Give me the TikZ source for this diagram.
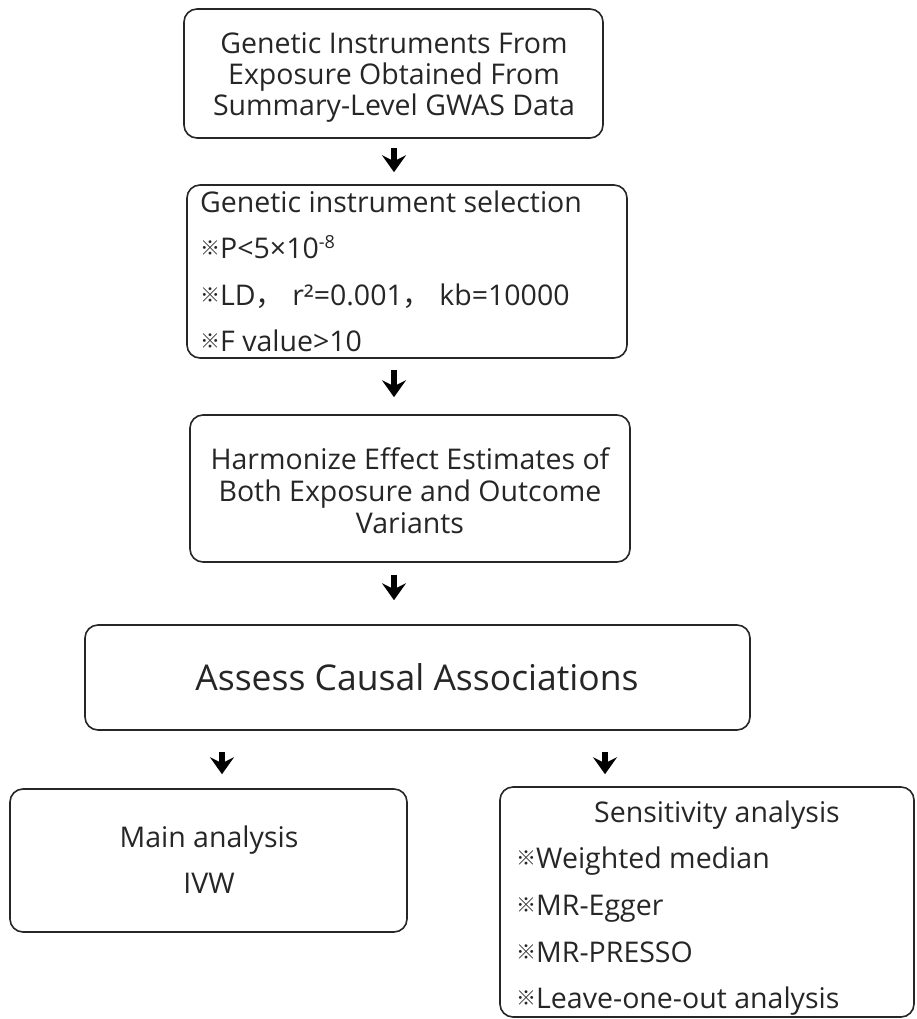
\documentclass[tikz,border=0pt]{standalone}
\usepackage{fontspec}
\setmainfont{Open Sans}
\newfontfamily\cjkfont{Noto Sans CJK SC}
\usetikzlibrary{arrows.meta}
\newcommand{\refmk}{\raisebox{3pt}{\fontsize{20}{20}\cjkfont ※}}
\newcommand{\fwcomma}{{\cjkfont ，}\hspace{8pt}}
\begin{document}
\begin{tikzpicture}[x=1pt,y=-1pt,
  box/.style={draw=black!85, line width=1.6pt, rounded corners=13pt, inner sep=0pt},
  txt/.style={inner sep=0pt, text=black!85, font=\fontsize{28.5}{31}\selectfont},
  arr/.style={-{Stealth[length=17pt,width=24pt,inset=6pt]}, line width=6pt}]
\useasboundingbox (0,0) rectangle (916,1019);
% boxes
\node[box, minimum width=419pt, minimum height=129pt] (b1) at (393.5,73.5) {};
\node[box, minimum width=440pt, minimum height=173pt] (b2) at (407,271.5) {};
\node[box, minimum width=440pt, minimum height=147pt] (b3) at (410,488.5) {};
\node[box, minimum width=665pt, minimum height=105pt] (b4) at (417.5,677.5) {};
\node[box, minimum width=397pt, minimum height=143pt] (b5) at (208.5,860.5) {};
\node[box, minimum width=414pt, minimum height=230pt] (b6) at (707,902) {};
% texts
\node[txt, align=center] (t1) at (394,77) {Genetic Instruments From\\Exposure Obtained From\\Summary-Level GWAS Data};
\node[txt, anchor=base west] (t2a) at (200,212) {Genetic instrument selection};
\node[txt, anchor=base west] (t2b) at (200,258) {\refmk P<5×10\raisebox{10pt}{\fontsize{18}{18}\selectfont -8}};
\node[txt, anchor=base west] (t2c) at (200,305) {\refmk LD\fwcomma r²=0.001\fwcomma kb=10000};
\node[txt, anchor=base west] (t2d) at (200,351) {\refmk F value>10};
\node[txt, align=center, font=\fontsize{28.5}{32}\selectfont] (t3) at (410,491) {Harmonize Effect Estimates of\\Both Exposure and Outcome\\Variants};
\node[txt, anchor=base, font=\fontsize{35.5}{40}\selectfont] (t4) at (417,690) {Assess Causal Associations};
\node[txt, anchor=base] (t5a) at (209,847) {Main analysis};
\node[txt, anchor=base] (t5b) at (209,893) {IVW};
\node[txt, anchor=base] (t6a) at (717,822) {Sensitivity analysis};
\node[txt, anchor=base west] (t6b) at (516,868) {\refmk Weighted median};
\node[txt, anchor=base west] (t6c) at (516,915) {\refmk MR-Egger};
\node[txt, anchor=base west] (t6d) at (516,962) {\refmk MR-PRESSO};
\node[txt, anchor=base west] (t6e) at (516,1008) {\refmk Leave-one-out analysis};
% arrows
\coordinate (ax) at (394,0);
\coordinate (lx) at (222,0);
\coordinate (rx) at (605,0);
\draw[arr, shorten <=9pt, shorten >=12pt] (b1.south -| ax) -- (b2.north -| ax);
\draw[arr, shorten <=11pt, shorten >=17pt] (b2.south -| ax) -- (b3.north -| ax);
\draw[arr, shorten <=12pt, shorten >=24pt] (b3.south -| ax) -- (b4.north -| ax);
\draw[arr, shorten <=21pt, shorten >=14pt] (b4.south -| lx) -- (b5.north -| lx);
\draw[arr, shorten <=21pt, shorten >=12pt] (b4.south -| rx) -- (b6.north -| rx);
\end{tikzpicture}
\end{document}
